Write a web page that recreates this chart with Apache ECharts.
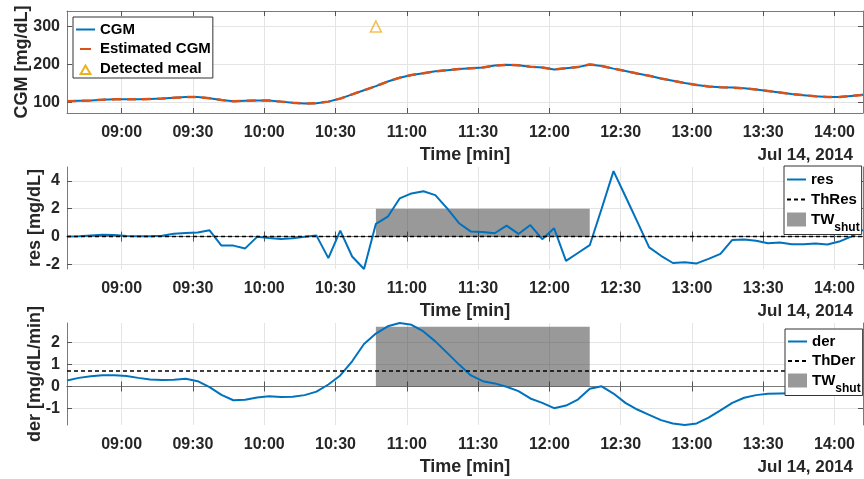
<!DOCTYPE html>
<html>
<head>
<meta charset="UTF-8">
<title>CGM meal detection</title>
<script src="https://cdn.jsdelivr.net/npm/echarts@6/dist/echarts.min.js"></script>
<style>
  html, body { margin: 0; padding: 0; background: #fff; }
  #main { width: 864px; height: 479px; }
</style>
</head>
<body>
<div id="main"></div>
<script>
// sample times in minutes after midnight (08:37 ... 14:12, every 5 min)
var times = [517,522,527,532,537,542,547,552,557,562,567,572,577,582,587,592,597,602,607,612,
             617,622,627,632,637,642,647,652,657,662,667,672,677,682,687,692,697,702,707,712,
             717,722,727,732,737,742,747,752,757,762,767,772,777,782,787,792,797,802,807,812,
             817,822,827,832,837,842,847,852];
var cgm = [103,104,105,107,108,108,108,109,110,112,114,114,111,106,103,104,105,105,102,99,
           97,98,102,110,121,132,143,155,165,172,177,182,185,188,190,192,197,199,198,194,
           192,187,190,193,200,196,189,183,176,170,163,157,151,146,142,140,139,137,134,130,
           126,122,119,116,114,114,117,120];
var cgmEstimated = [103,104,105,107,108,108,108,109,110,112,114,114,111,106,103,104,105,105,102,99,
           97,98,102,110,121,132,143,155,165,172,177,182,185,188,190,192,197,199,198,194,
           192,187,190,193,200,196,189,183,176,170,163,157,151,146,142,140,139,137,134,130,
           126,122,119,116,114,114,117,120];
var res = [0,0.02,0.08,0.13,0.12,0.05,0.02,0.03,0.06,0.2,0.25,0.3,0.45,-0.65,-0.65,-0.85,-0.02,
           -0.1,-0.17,-0.12,-0.02,0.07,-1.55,0.43,-1.43,-2.33,
           0.92,1.43,2.74,3.1,3.26,2.98,2.03,0.96,0.36,0.33,0.24,0.79,0.19,0.83,-0.19,0.6,
           -1.74,-1.18,-0.62,2.0,4.7,2.9,1.07,-0.78,
           -1.38,-1.9,-1.84,-1.93,-1.6,-1.24,-0.24,-0.21,-0.3,-0.48,-0.43,-0.55,-0.55,-0.5,-0.57,-0.36,0,0.48];
var der = [0.27,0.39,0.46,0.51,0.51,0.47,0.39,0.32,0.29,0.3,0.35,0.24,-0.03,-0.38,-0.62,
           -0.6,-0.5,-0.44,-0.47,-0.46,-0.39,-0.23,0.09,0.5,1.14,1.92,2.39,2.72,2.87,2.79,
           2.49,2.04,1.52,0.99,0.5,0.24,0.14,-0.01,-0.21,-0.54,-0.74,-0.98,-0.86,-0.59,-0.1,
           0.01,-0.32,-0.74,-1.04,-1.28,-1.52,-1.67,-1.74,-1.67,-1.41,-1.08,-0.74,-0.51,-0.39,-0.33,
           -0.32,-0.31,-0.31,-0.3,-0.3,-0.31,-0.3,-0.29];

var xTicks = [540,570,600,630,660,690,720,750,780,810,840];
var cgmTicks = [100,200,300];
var resTicks = [-2,0,2,4];
var derTicks = [-1,0,1,2];

var mealTime = 647, mealValue = 300;
var thRes = 0, thDer = 0.7;
var twStart = 647, twEnd = 737;
var twResTop = 2, twDerTop = 2.7;
var dateLabel = 'Jul 14, 2014';

var FONT = 'Liberation Sans, Arial, sans-serif';
var TXT = '#262626';
var BLUE = '#0072BD', ORANGE = '#D95319', YELLOW = '#EDB120';

var panels = [
    {top: 11,  height: 102, min: 72,    max: 341,  ticks: cgmTicks, name: 'CGM [mg/dL]', gap: 36},
    {top: 167, height: 102, min: -2.33, max: 5,    ticks: resTicks, name: 'res [mg/dL]', gap: 23},
    {top: 323, height: 102, min: -1.74, max: 2.87, ticks: derTicks, name: 'der [mg/dL/min]', gap: 23}
];

function hhmm(v) {
    var h = Math.floor(v / 60), m = Math.round(v % 60);
    return (h < 10 ? '0' : '') + h + ':' + (m < 10 ? '0' : '') + m;
}

var grid = [], xAxis = [], yAxis = [], graphic = [];
var axisLine = {show: true, lineStyle: {color: '#7a7a7a', width: 1}};
var gridLine = {color: '#e4e4e4', width: 1};

panels.forEach(function (p, i) {
    grid.push({left: 67, right: 1, top: p.top, height: p.height});
    // bottom x axis
    xAxis.push({
        type: 'value', gridIndex: i, min: times[0], max: times[times.length - 1],
        position: 'bottom',
        axisLine: axisLine,
        axisTick: {inside: true, length: 5, customValues: xTicks, lineStyle: {color: '#555'}},
        axisLabel: {customValues: xTicks, formatter: hhmm, margin: 12, color: TXT,
                    fontSize: 16, fontWeight: 'bold', fontFamily: FONT},
        splitLine: {show: true, customValues: xTicks, lineStyle: gridLine},
        name: 'Time [min]', nameLocation: 'middle', nameGap: 33, nameMoveOverlap: false,
        nameTextStyle: {color: TXT, fontSize: 18, fontWeight: 'bold', fontFamily: FONT}
    });
    // top x axis (box ticks only)
    xAxis.push({
        type: 'value', gridIndex: i, min: times[0], max: times[times.length - 1],
        position: 'top',
        axisLine: axisLine,
        axisTick: {inside: true, length: 5, customValues: xTicks, lineStyle: {color: '#555'}},
        axisLabel: {show: false},
        splitLine: {show: false}
    });
    yAxis.push({
        type: 'value', gridIndex: i, min: p.min, max: p.max, position: 'left',
        axisLine: axisLine,
        axisTick: {inside: true, length: 5, customValues: p.ticks, lineStyle: {color: '#555'}},
        axisLabel: {customValues: p.ticks, margin: 7, color: TXT,
                    fontSize: 16, fontWeight: 'bold', fontFamily: FONT},
        splitLine: {show: true, customValues: p.ticks, lineStyle: gridLine},
        name: p.name, nameLocation: 'middle', nameRotate: 90, nameGap: p.gap, nameMoveOverlap: false,
        nameTextStyle: {color: TXT, fontSize: 18, fontWeight: 'bold', fontFamily: FONT}
    });
    yAxis.push({
        type: 'value', gridIndex: i, min: p.min, max: p.max, position: 'right',
        axisLine: axisLine,
        axisTick: {inside: true, length: 5, customValues: p.ticks, lineStyle: {color: '#555'}},
        axisLabel: {show: false},
        splitLine: {show: false}
    });
    graphic.push({
        type: 'text', x: 853, y: p.top + p.height + 42,
        style: {text: dateLabel, textAlign: 'right', textVerticalAlign: 'middle',
                font: 'bold 17px ' + FONT, fill: TXT}
    });
});

function pairs(arr) {
    return times.map(function (t, k) { return [t, arr[k]]; });
}
function flat(v) {
    return [[times[0], v], [times[times.length - 1], v]];
}

var lineBase = {type: 'line', symbol: 'none', animation: false, silent: true};

function twSeries(gi, top) {
    return {
        name: 'TW_shut', type: 'line', xAxisIndex: gi * 2, yAxisIndex: gi * 2,
        symbol: 'none', data: [[twStart, 0]], z: 5, animation: false, silent: true,
        color: '#999999', lineStyle: {width: 0},
        markArea: {
            silent: true, animation: false,
            itemStyle: {color: 'rgba(51,51,51,0.5)'},
            label: {show: false},
            data: [[{coord: [twStart, 0]}, {coord: [twEnd, top]}]]
        }
    };
}

var series = [
    Object.assign({}, lineBase, {name: 'CGM', xAxisIndex: 0, yAxisIndex: 0, data: pairs(cgm),
        color: BLUE, lineStyle: {color: BLUE, width: 2}}),
    Object.assign({}, lineBase, {name: 'Estimated CGM', xAxisIndex: 0, yAxisIndex: 0, data: pairs(cgmEstimated),
        color: ORANGE, lineStyle: {color: ORANGE, width: 2.5, type: [9, 6]}, z: 3}),
    {name: 'Detected meal', type: 'scatter', xAxisIndex: 0, yAxisIndex: 0, data: [[mealTime, mealValue]],
        symbol: 'triangle', symbolSize: 11, animation: false, silent: true,
        itemStyle: {color: 'rgba(0,0,0,0)', borderColor: YELLOW, borderWidth: 1.5}},
    Object.assign({}, lineBase, {name: 'res', xAxisIndex: 2, yAxisIndex: 2, data: pairs(res),
        color: BLUE, lineStyle: {color: BLUE, width: 2}}),
    Object.assign({}, lineBase, {name: 'ThRes', xAxisIndex: 2, yAxisIndex: 2, data: flat(thRes),
        color: '#000', lineStyle: {color: '#000', width: 1.5, type: [4, 3]}}),
    twSeries(1, twResTop),
    Object.assign({}, lineBase, {name: 'der', xAxisIndex: 4, yAxisIndex: 4, data: pairs(der),
        color: BLUE, lineStyle: {color: BLUE, width: 2}}),
    Object.assign({}, lineBase, {name: 'ThDer', xAxisIndex: 4, yAxisIndex: 4, data: flat(thDer),
        color: '#000', lineStyle: {color: '#000', width: 1.5, type: [4, 3]}}),
    twSeries(2, twDerTop)
];

var legendText = {
    color: '#000', fontSize: 15, fontWeight: 'bold', fontFamily: FONT,
    rich: {s: {fontSize: 12, fontWeight: 'bold', fontFamily: FONT, color: '#000', padding: [16, 0, 0, 0]}}
};
function legendBox(left, top, items, padTop, gap) {
    return {
        orient: 'vertical', left: left, top: top, data: items,
        padding: [padTop, 2, 1, 2], itemGap: gap, itemWidth: 19, itemHeight: 14,
        backgroundColor: '#fff', borderColor: '#333', borderWidth: 1,
        selectedMode: false, textStyle: legendText,
        // hide the marker that line series add to their legend icon
        itemStyle: {opacity: 0},
        formatter: function (n) { return n === 'TW_shut' ? 'TW{s|shut}' : n; }
    };
}
var twItem = {name: 'TW_shut', icon: 'rect', itemStyle: {color: '#999999', borderWidth: 0, opacity: 1}};
var mealItem = {name: 'Detected meal', icon: 'path://M0,0M20,20M3,17L10,5L17,17Z',
                itemStyle: {opacity: 1}};

var option = {
    backgroundColor: '#fff',
    animation: false,
    grid: grid,
    xAxis: xAxis,
    yAxis: yAxis,
    graphic: graphic,
    legend: [
        legendBox(73, 17, ['CGM', {name: 'Estimated CGM', lineStyle: {type: [0, 4, 11, 20]}}, mealItem], 5, 4.5),
        legendBox(784, 166, ['res', 'ThRes', twItem], 6, 5),
        legendBox(785, 329, ['der', 'ThDer', twItem], 5, 4.5)
    ],
    series: series
};

var chart = echarts.init(document.getElementById('main'), null, {renderer: 'canvas'});
chart.setOption(option);
</script>
</body>
</html>
